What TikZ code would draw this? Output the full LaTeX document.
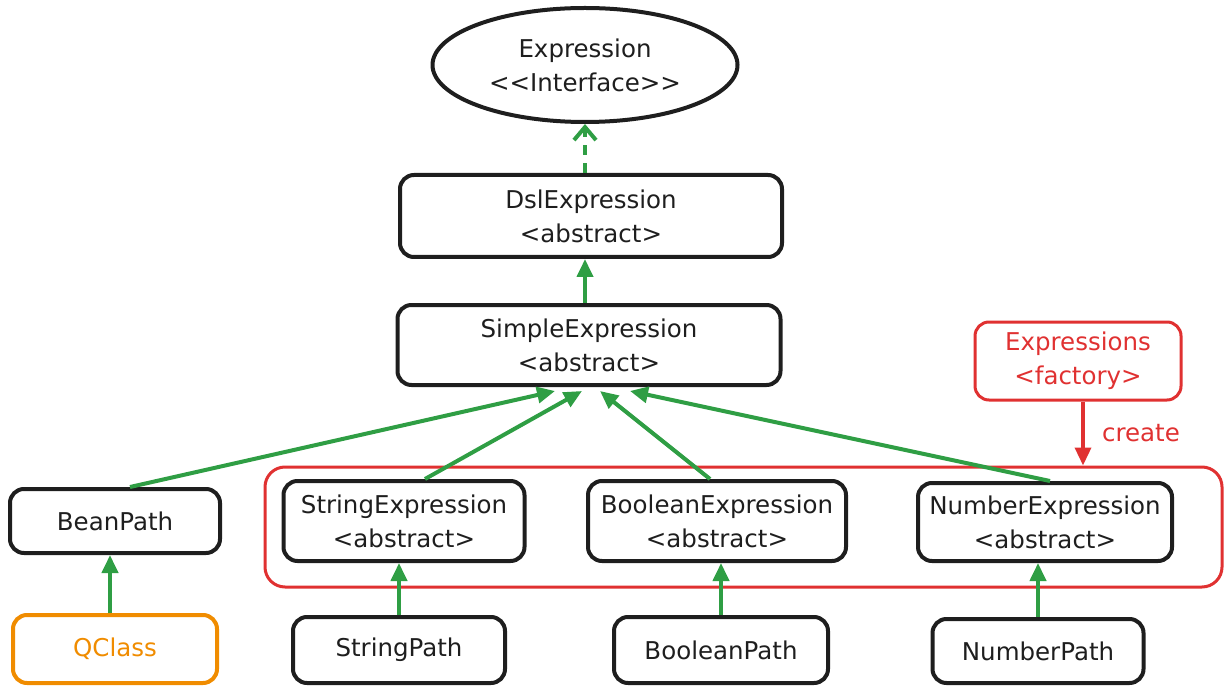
\documentclass[tikz,border=0pt]{standalone}
\usepackage{fontspec}
\setmainfont{DejaVu Sans}[Ligatures=NoCommon]
\usetikzlibrary{arrows.meta,shapes.geometric}

\definecolor{ink}{HTML}{1E1E1E}
\definecolor{inkgreen}{HTML}{2F9E44}
\definecolor{inkred}{HTML}{E03131}
\definecolor{inkorange}{HTML}{F08C00}

\begin{document}
\begin{tikzpicture}[x=1pt,y=-1pt,>={Triangle[length=18pt,width=16pt]},
                    line width=4pt,font=\fontsize{24.5}{34}\selectfont]
  \tikzstyle{cls}=[draw=ink,text=ink,rounded corners=14pt,align=center,inner sep=0pt]
  \tikzstyle{iface}=[draw=ink,text=ink,ellipse,align=center,inner sep=0pt]
  \tikzstyle{factory}=[draw=inkred,text=inkred,rounded corners=14pt,line width=3pt,align=center,inner sep=0pt]
  \tikzstyle{group}=[draw=inkred,rounded corners=20pt,line width=3pt,inner sep=0pt]
  \tikzstyle{gen}=[->,draw=inkgreen,line width=4pt]
  \tikzstyle{impl}=[-{Straight Barb[length=13pt,width=22pt]},draw=inkgreen,line width=4pt,dash pattern=on 10pt off 8pt]

  \useasboundingbox (0,0) rectangle (1230,692);

  \node[group]   (grp)    at (743.5,527) [minimum width=957,minimum height=120] {};

  \node[iface]   (expr)   at (585,65)   [minimum width=305,minimum height=114] {Expression\\{<}{<}Interface{>}{>}};
  \node[cls]     (dsl)    at (591,216)  [minimum width=382,minimum height=82]  {DslExpression\\<abstract>};
  \node[cls]     (simple) at (589,345)  [minimum width=383,minimum height=80]  {SimpleExpression\\<abstract>};
  \node[factory] (fact)   at (1078,361) [minimum width=206,minimum height=78]  {Expressions\\<factory>};

  \node[cls]     (bean)   at (115,521)  [minimum width=210,minimum height=64]  {BeanPath};
  \node[cls]     (strexp) at (404,521)  [minimum width=241,minimum height=80]  {StringExpression\\<abstract>};
  \node[cls]     (boolexp)at (717,521)  [minimum width=258,minimum height=80]  {BooleanExpression\\<abstract>};
  \node[cls]     (numexp) at (1045,522) [minimum width=254,minimum height=78]  {NumberExpression\\<abstract>};

  \node[cls,draw=inkorange,text=inkorange]
                 (qclass) at (115,649)  [minimum width=204,minimum height=68]  {QClass};
  \node[cls]     (strpath)at (399,650)  [minimum width=212,minimum height=66]  {StringPath};
  \node[cls]     (boolpath)at (721,650) [minimum width=214,minimum height=66]  {BooleanPath};
  \node[cls]     (numpath)at (1038,651) [minimum width=211,minimum height=64]  {NumberPath};

  \draw[impl] (dsl.north -| expr.south) -- (expr.south);
  \draw[gen]  (simple.north -| expr.south) -- (dsl.south -| expr.south);

  \draw[gen] ([xshift=15pt]bean.north)    -- ([xshift=-34pt,yshift=-4pt]simple.south);
  \draw[gen] ([xshift=21pt]strexp.north)  -- ([xshift=-7pt,yshift=-4pt]simple.south);
  \draw[gen] ([xshift=-7pt]boolexp.north) -- ([xshift=11pt,yshift=-4pt]simple.south);
  \draw[gen] ([xshift=5pt]numexp.north)   -- ([xshift=41pt,yshift=-4pt]simple.south);

  \draw[gen] ([xshift=-5pt]qclass.north) -- ([xshift=-5pt]bean.south);
  \draw[gen] (strpath.north)  -- (strpath.north |- strexp.south);
  \draw[gen] (boolpath.north) -- (boolpath.north |- boolexp.south);
  \draw[gen] (numpath.north)  -- (numpath.north |- numexp.south);

  \draw[->,draw=inkred,line width=3.5pt] ([xshift=5pt]fact.south) -- ([xshift=5pt]fact.south |- grp.north)
        node[midway,right=14pt,text=inkred] {create};
\end{tikzpicture}
\end{document}
